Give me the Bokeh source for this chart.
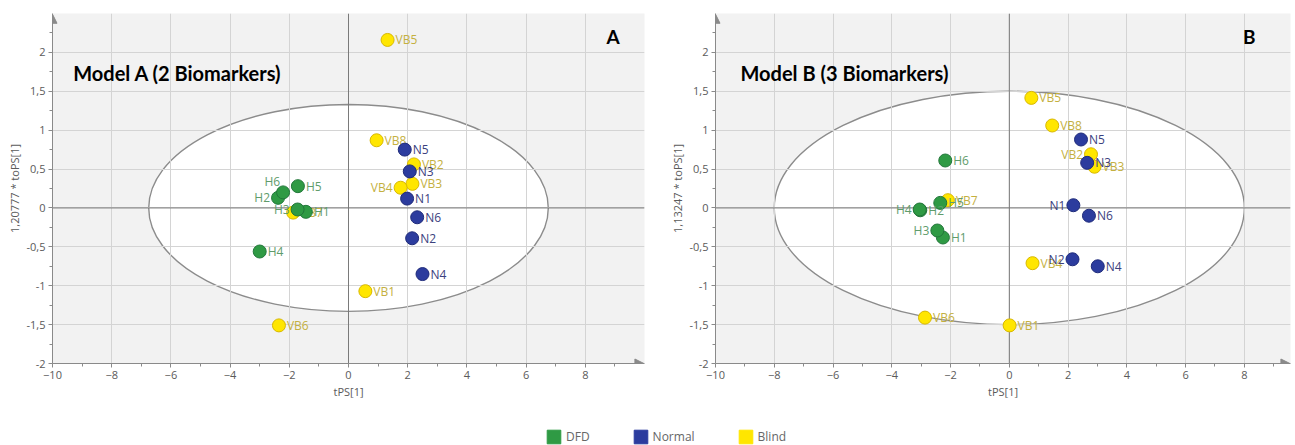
import math
from bokeh.plotting import figure
from bokeh.models import (ColumnDataSource, FixedTicker, Span, Label, Arrow,
                          NormalHead, Legend, LegendItem)
from bokeh.layouts import row, column
from bokeh.embed import file_html
from bokeh.resources import INLINE
from bokeh.core.properties import value

# ---------------- data ----------------
GROUPS = ["DFD", "Normal", "Blind"]
GROUP_FILL = ["#2f9a44", "#2c3c9e", "#ffe600"]
GROUP_LINE = ["#22773a", "#1f2b7a", "#d8b800"]
GROUP_TEXT = ["#5f9c6b", "#3b417e", "#c4b040"]

X_TICKS = [-10, -8, -6, -4, -2, 0, 2, 4, 6, 8]
X_MINOR = [-9, -7, -5, -3, -1, 1, 3, 5, 7, 9]
Y_TICKS = [-2, -1.5, -1, -0.5, 0, 0.5, 1, 1.5, 2]
Y_TICK_LABELS = ["-2", "-1,5", "-1", "-0,5", "0", "0,5", "1", "1,5", "2"]
Y_MINOR = [-1.75, -1.25, -0.75, -0.25, 0.25, 0.75, 1.25, 1.75, 2.25]

# Model A (2 biomarkers)
A_DFD_NAMES = ["H1", "H2", "H3", "H4", "H5", "H6"]
A_DFD_X = [-1.44, -2.38, -1.72, -3.00, -1.71, -2.21]
A_DFD_Y = [-0.05, 0.13, -0.02, -0.56, 0.28, 0.20]
A_NORMAL_NAMES = ["N1", "N2", "N3", "N4", "N5", "N6"]
A_NORMAL_X = [1.98, 2.15, 2.07, 2.50, 1.90, 2.32]
A_NORMAL_Y = [0.12, -0.39, 0.47, -0.85, 0.75, -0.12]
A_BLIND_NAMES = ["VB1", "VB2", "VB3", "VB4", "VB5", "VB6", "VB7", "VB8"]
A_BLIND_X = [0.57, 2.21, 2.16, 1.76, 1.32, -2.35, -1.87, 0.95]
A_BLIND_Y = [-1.07, 0.56, 0.31, 0.26, 2.16, -1.51, -0.06, 0.87]
A_ELLIPSE = (6.75, 1.33)

# Model B (3 biomarkers)
B_DFD_NAMES = ["H1", "H2", "H3", "H4", "H5", "H6"]
B_DFD_X = [-2.26, -3.03, -2.45, -3.05, -2.35, -2.18]
B_DFD_Y = [-0.38, -0.03, -0.29, -0.02, 0.065, 0.61]
B_NORMAL_NAMES = ["N1", "N2", "N3", "N4", "N5", "N6"]
B_NORMAL_X = [2.18, 2.15, 2.65, 3.01, 2.44, 2.71]
B_NORMAL_Y = [0.035, -0.66, 0.58, -0.75, 0.88, -0.10]
B_BLIND_NAMES = ["VB1", "VB2", "VB3", "VB4", "VB5", "VB6", "VB7", "VB8"]
B_BLIND_X = [0.01, 2.78, 2.90, 0.79, 0.75, -2.87, -2.09, 1.46]
B_BLIND_Y = [-1.51, 0.69, 0.53, -0.71, 1.415, -1.41, 0.10, 1.06]
B_ELLIPSE = (8.0, 1.5)

# ---------------- layout / style ----------------
A_LEFT = {"H2", "H3", "VB4"}
A_SPECIAL = {"H6": (-3, -11)}
B_LEFT = {"H4", "N1", "N2", "VB2", "H3"}
B_SPECIAL = {}

FONT = "Open Sans"
AX_COL = "#8a8a8a"
LBL_COL = "#5a5a5a"


def make_panel(title, letter, ylabel, xmax, groups, ellipse, left, special,
               width, border_left, border_right, title_pos, letter_pos):
    p = figure(width=width, height=405, x_range=(-10, xmax), y_range=(-2, 2.5),
               output_backend="svg", toolbar_location=None,
               min_border_left=border_left, min_border_right=border_right,
               min_border_top=13, min_border_bottom=42,
               background_fill_color="#f2f2f2", border_fill_color="white",
               outline_line_color=None)
    a, b = ellipse
    p.ellipse(x=[0], y=[0], width=[2 * a], height=[2 * b], fill_color="white",
              line_color="#8c8c8c", line_width=1.4, level="image")

    p.xaxis.ticker = FixedTicker(ticks=X_TICKS, minor_ticks=X_MINOR)
    p.yaxis.ticker = FixedTicker(ticks=Y_TICKS, minor_ticks=Y_MINOR)
    p.xgrid.ticker = FixedTicker(ticks=X_TICKS)
    p.ygrid.ticker = FixedTicker(ticks=Y_TICKS)
    p.yaxis.major_label_overrides = {t: l for t, l in zip(Y_TICKS, Y_TICK_LABELS)}
    p.grid.grid_line_color = "#d4d4d4"
    p.grid.grid_line_width = 1
    for ax in p.axis:
        ax.axis_line_color = AX_COL
        ax.major_tick_line_color = AX_COL
        ax.minor_tick_line_color = AX_COL
        ax.major_tick_in = 0
        ax.major_tick_out = 4
        ax.minor_tick_in = 0
        ax.minor_tick_out = 3
        ax.major_label_text_font = FONT
        ax.major_label_text_font_size = "11px"
        ax.major_label_text_color = LBL_COL
        ax.major_label_standoff = 3
        ax.axis_label_text_font = FONT
        ax.axis_label_text_font_size = "11px"
        ax.axis_label_text_font_style = "normal"
        ax.axis_label_text_color = LBL_COL
        ax.axis_label_standoff = 2
    p.xaxis.axis_label = "tPS[1]"
    p.yaxis.axis_label = ylabel

    p.add_layout(Span(location=0, dimension="height", line_color="#7a7a7a",
                      line_width=1, level="underlay"))
    p.add_layout(Span(location=0, dimension="width", line_color="#7a7a7a",
                      line_width=1, level="underlay"))
    p.add_layout(Arrow(end=NormalHead(size=9, fill_color=AX_COL, line_color=AX_COL),
                       x_start=xmax - 0.4, y_start=-2, x_end=xmax - 0.02, y_end=-2,
                       line_color=AX_COL))
    p.add_layout(Arrow(end=NormalHead(size=9, fill_color=AX_COL, line_color=AX_COL),
                       x_start=-10, y_start=2.3, x_end=-10, y_end=2.49,
                       line_color=AX_COL))

    # draw order: Blind, DFD, Normal
    for gi in [2, 0, 1]:
        names, xs, ys = groups[gi]
        dx, dy, al = [], [], []
        for n in names:
            if n in special:
                dx.append(special[n][0]); dy.append(special[n][1]); al.append("right")
            elif n in left:
                dx.append(-8); dy.append(0); al.append("right")
            else:
                dx.append(8); dy.append(0); al.append("left")
        src = ColumnDataSource(dict(x=xs, y=ys, name=names, dx=dx, dy=dy, al=al))
        p.scatter("x", "y", source=src, size=13, fill_color=GROUP_FILL[gi],
                  line_color=GROUP_LINE[gi], line_width=1)
        p.text("x", "y", text="name", source=src, x_offset="dx", y_offset="dy",
               text_align="al", text_baseline="middle", text_font=value(FONT),
               text_font_size="12px", text_color=GROUP_TEXT[gi])

    p.add_layout(Label(x=title_pos[0], y=title_pos[1], text=title,
                       text_font="Lato", text_font_style="bold",
                       text_font_size="20px", text_color="black",
                       text_baseline="middle"))
    p.add_layout(Label(x=letter_pos[0], y=letter_pos[1], text=letter,
                       text_font="Lato", text_font_style="bold",
                       text_font_size="19px", text_color="black",
                       text_baseline="middle"))
    return p


pA = make_panel("Model A (2 Biomarkers)", "A", "1,20777 * toPS[1]", 10.0,
                [(A_DFD_NAMES, A_DFD_X, A_DFD_Y),
                 (A_NORMAL_NAMES, A_NORMAL_X, A_NORMAL_Y),
                 (A_BLIND_NAMES, A_BLIND_X, A_BLIND_Y)],
                A_ELLIPSE, A_LEFT, A_SPECIAL, width=666, border_left=52,
                border_right=22,
                title_pos=(-9.3, 1.74), letter_pos=(8.72, 2.21))
pB = make_panel("Model B (3 Biomarkers)", "B", "1,13247 * toPS[1]", 9.57,
                [(B_DFD_NAMES, B_DFD_X, B_DFD_Y),
                 (B_NORMAL_NAMES, B_NORMAL_X, B_NORMAL_Y),
                 (B_BLIND_NAMES, B_BLIND_X, B_BLIND_Y)],
                B_ELLIPSE, B_LEFT, B_SPECIAL, width=627, border_left=44,
                border_right=3,
                title_pos=(-9.15, 1.74), letter_pos=(7.95, 2.21))

# legend strip
pl = figure(width=1293, height=40, x_range=(0, 1), y_range=(0, 1),
            output_backend="svg", toolbar_location=None,
            min_border=0, outline_line_color=None)
pl.axis.visible = False
pl.grid.visible = False
items = []
for g, c in zip(GROUPS, GROUP_FILL):
    r = pl.quad(left=[math.nan], right=[math.nan], top=[math.nan], bottom=[math.nan],
                fill_color=c, line_color=c)
    items.append(LegendItem(label=g, renderers=[r]))
leg = Legend(items=items, orientation="horizontal", location=(545, 0),
             padding=0, margin=0, spacing=42, label_standoff=4,
             glyph_width=17, glyph_height=17, label_height=17,
             label_text_font=FONT, label_text_font_size="12px",
             label_text_color="#666666", border_line_color=None,
             background_fill_alpha=0)
pl.add_layout(leg)

layout = column(row(pA, pB), pl)
open("out.html", "w").write(file_html(layout, INLINE))
